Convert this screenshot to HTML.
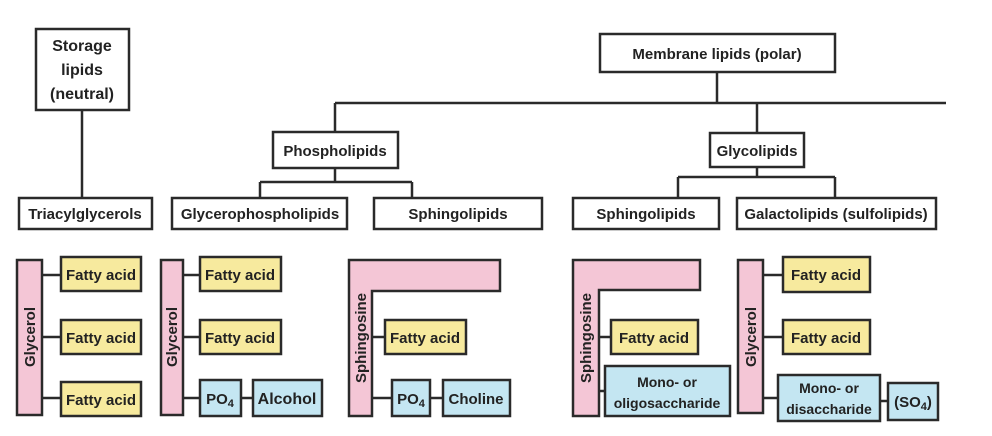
<!DOCTYPE html>
<html><head><meta charset="utf-8"><style>
body{margin:0;background:#fff;}
svg{display:block;}
text{font-family:"Liberation Sans",sans-serif;font-weight:bold;fill:#222;}
</style></head><body>
<svg width="992" height="436" viewBox="0 0 992 436" xmlns="http://www.w3.org/2000/svg">
<g stroke="#2a2a2a" stroke-width="2.5" fill="none">
<line x1="82" y1="110" x2="82" y2="198"/>
<line x1="335" y1="103" x2="946" y2="103"/>
<line x1="335" y1="103" x2="335" y2="132"/>
<line x1="717" y1="72" x2="717" y2="103"/>
<line x1="757" y1="103" x2="757" y2="133"/>
<line x1="335" y1="168" x2="335" y2="182"/>
<line x1="260" y1="182" x2="412" y2="182"/>
<line x1="260" y1="182" x2="260" y2="198"/>
<line x1="412" y1="182" x2="412" y2="198"/>
<line x1="757" y1="167" x2="757" y2="177"/>
<line x1="678" y1="177" x2="835" y2="177"/>
<line x1="678" y1="177" x2="678" y2="198"/>
<line x1="835" y1="177" x2="835" y2="198"/>
<rect x="36" y="29" width="93" height="81" fill="#fff"/>
<rect x="600" y="34" width="235" height="38" fill="#fff"/>
<rect x="273" y="132" width="125" height="36" fill="#fff"/>
<rect x="710" y="133" width="94" height="34" fill="#fff"/>
<rect x="19" y="198" width="133" height="31" fill="#fff"/>
<rect x="172" y="198" width="175" height="31" fill="#fff"/>
<rect x="374" y="198" width="168" height="31" fill="#fff"/>
<rect x="573" y="198" width="146" height="31" fill="#fff"/>
<rect x="737" y="198" width="199" height="31" fill="#fff"/>
<line x1="42" y1="275" x2="61" y2="275"/><line x1="42" y1="337" x2="61" y2="337"/><line x1="42" y1="398" x2="61" y2="398"/>
<line x1="183" y1="275" x2="200" y2="275"/><line x1="183" y1="337" x2="200" y2="337"/><line x1="183" y1="398" x2="200" y2="398"/><line x1="241" y1="398" x2="253" y2="398"/>
<line x1="372" y1="337" x2="385" y2="337"/><line x1="372" y1="398" x2="392" y2="398"/><line x1="430" y1="398" x2="443" y2="398"/>
<line x1="599" y1="337" x2="611" y2="337"/><line x1="599" y1="391" x2="605" y2="391"/>
<line x1="763" y1="275" x2="783" y2="275"/><line x1="763" y1="337" x2="783" y2="337"/><line x1="763" y1="398" x2="778" y2="398"/><line x1="880" y1="401" x2="888" y2="401"/>
<rect x="17" y="260" width="25" height="155" fill="#f4c6d6"/>
<rect x="161" y="260" width="22" height="155" fill="#f4c6d6"/>
<path d="M349 260 H500 V291 H372 V416 H349 Z" fill="#f4c6d6"/>
<path d="M573 260 H700 V290 H599 V416 H573 Z" fill="#f4c6d6"/>
<rect x="738" y="260" width="25" height="153" fill="#f4c6d6"/>
<g fill="#f7ea9e">
<rect x="61" y="257" width="80" height="34"/><rect x="61" y="320" width="80" height="34"/><rect x="61" y="382" width="80" height="34"/>
<rect x="200" y="257" width="81" height="34"/><rect x="200" y="320" width="81" height="34"/>
<rect x="385" y="320" width="81" height="34"/>
<rect x="611" y="320" width="87" height="34"/>
<rect x="783" y="257" width="87" height="35"/><rect x="783" y="320" width="87" height="34"/>
</g>
<g fill="#c4e6f2">
<rect x="200" y="380" width="41" height="36"/><rect x="253" y="380" width="69" height="36"/>
<rect x="392" y="380" width="38" height="36"/><rect x="443" y="380" width="67" height="36"/>
<rect x="605" y="366" width="125" height="50"/>
<rect x="778" y="375" width="102" height="46"/><rect x="888" y="383" width="50" height="37"/>
</g>
</g>
<g font-size="15" text-anchor="middle">
<text x="82" y="51" font-size="16">Storage</text><text x="82" y="75" font-size="16">lipids</text><text x="82" y="99" font-size="16">(neutral)</text>
<text x="717" y="59">Membrane lipids (polar)</text>
<text x="335" y="156">Phospholipids</text>
<text x="757" y="156">Glycolipids</text>
<text x="85" y="219">Triacylglycerols</text>
<text x="260" y="219">Glycerophospholipids</text>
<text x="458" y="219">Sphingolipids</text>
<text x="646" y="219">Sphingolipids</text>
<text x="836" y="219">Galactolipids (sulfolipids)</text>
</g>
<g font-size="15" text-anchor="middle">
<text x="101" y="280">Fatty acid</text><text x="101" y="343">Fatty acid</text><text x="101" y="405">Fatty acid</text>
<text x="240" y="280">Fatty acid</text><text x="240" y="343">Fatty acid</text>
<text x="425" y="343">Fatty acid</text>
<text x="654" y="343">Fatty acid</text>
<text x="826" y="280">Fatty acid</text><text x="826" y="343">Fatty acid</text>
<text x="220" y="404">PO<tspan font-size="11" dy="3">4</tspan></text>
<text x="287" y="404" font-size="16">Alcohol</text>
<text x="411" y="404">PO<tspan font-size="11" dy="3">4</tspan></text>
<text x="476" y="404">Choline</text>
<text x="667" y="387" font-size="14">Mono- or</text><text x="667" y="408" font-size="14">oligosaccharide</text>
<text x="829" y="393" font-size="14">Mono- or</text><text x="829" y="414" font-size="14">disaccharide</text>
<text x="913" y="407">(SO<tspan font-size="11" dy="3">4</tspan><tspan dy="-3">)</tspan></text>
<text transform="translate(35,337) rotate(-90)">Glycerol</text>
<text transform="translate(177,337) rotate(-90)">Glycerol</text>
<text transform="translate(366,338) rotate(-90)">Sphingosine</text>
<text transform="translate(591,338) rotate(-90)">Sphingosine</text>
<text transform="translate(756,337) rotate(-90)">Glycerol</text>
</g>
</svg>
</body></html>
